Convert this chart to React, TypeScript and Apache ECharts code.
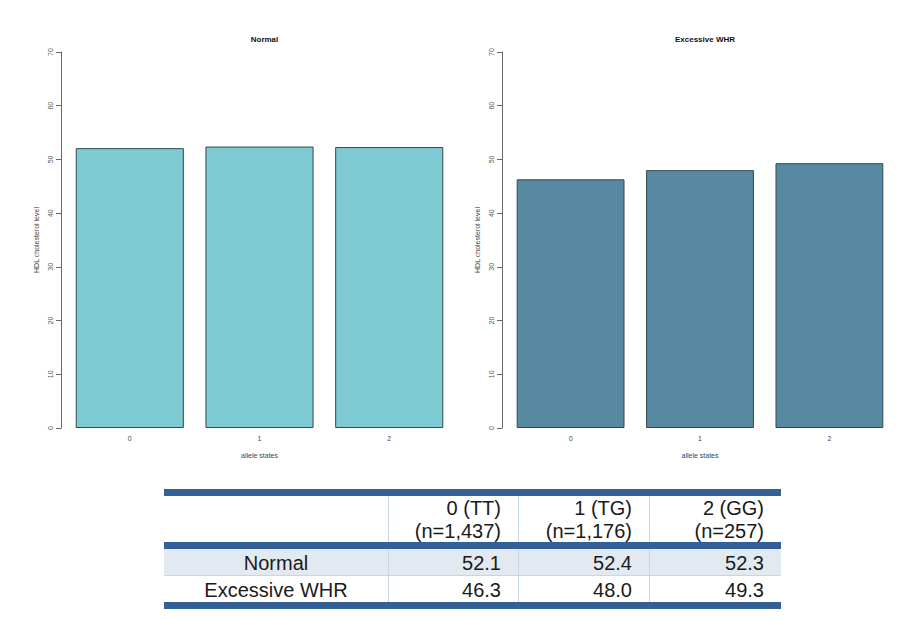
import React, { useEffect, useRef } from "react";
import * as echarts from "echarts";

// ---- data ----
const categories = ["0", "1", "2"];
const normalValues = [52.1, 52.4, 52.3];
const excessiveValues = [46.3, 48.0, 49.3];
const panelTitles = ["Normal", "Excessive WHR"];
const groupNames = ["Normal", "Excessive WHR"];
const genotypeLabels = ["0 (TT)", "1 (TG)", "2 (GG)"];
const sampleSizes = ["(n=1,437)", "(n=1,176)", "(n=257)"];
const yMax = 70;
const yInterval = 10;
const xAxisName = "allele states";
const yAxisName = "HDL cholesterol level";

// R barplot layout (width 1, space 0.2)
const barPos = (i: number) => 0.2 + i * 1.2 + 0.5;
const xMin = 0.2 - 0.04 * 3.4;
const xMax = 3.6 + 0.04 * 3.4;

const W = 914;
const H = 619;
const panels = [
  { left: 61, right: 458, fill: "#7ECAD3", values: normalValues },
  { left: 502, right: 898, fill: "#578AA0", values: excessiveValues },
];
const plotTop = 52;
const plotBottom = 428;

export default function App() {
  const ref = useRef<HTMLDivElement>(null);
  useEffect(() => {
    if (!ref.current) return;
    const chart = echarts.init(ref.current, null, { renderer: "svg" });

    const grids = panels.map((p) => ({
      left: p.left,
      width: p.right - p.left,
      top: plotTop,
      height: plotBottom - plotTop,
      containLabel: false,
    }));

    const xAxes = panels.map((p, gi) => ({
      type: "value",
      gridIndex: gi,
      min: xMin,
      max: xMax,
      axisLine: { show: false },
      axisTick: { show: false },
      splitLine: { show: false },
      axisLabel: {
        customValues: categories.map((_, i) => barPos(i)),
        formatter: (v: number) => {
          const idx = categories.findIndex((_, i) => Math.abs(barPos(i) - v) < 1e-6);
          return idx >= 0 ? categories[idx] : "";
        },
        fontSize: 7,
        color: "#444",
        margin: 7,
        fontFamily: "Liberation Sans",
      },
      name: xAxisName,
      nameLocation: "middle",
      nameGap: 24,
      nameTextStyle: { fontSize: 7, color: "#444", fontFamily: "Liberation Sans" },
    }));

    const yAxes = panels.map((p, gi) => ({
      type: "value",
      gridIndex: gi,
      min: 0,
      max: yMax,
      interval: yInterval,
      axisLine: { show: true, lineStyle: { color: "#666", width: 1 } },
      axisTick: { show: true, length: 5, lineStyle: { color: "#666" } },
      splitLine: { show: false },
      axisLabel: {
        rotate: 90,
        fontSize: 7,
        color: "#555",
        margin: 7,
        fontFamily: "Liberation Sans",
      },
      name: yAxisName,
      nameLocation: "middle",
      nameGap: 21,
      nameTextStyle: { fontSize: 7, color: "#444", fontFamily: "Liberation Sans" },
    }));

    const series = panels.map((p, gi) => ({
      type: "bar",
      xAxisIndex: gi,
      yAxisIndex: gi,
      barWidth: (p.right - p.left) / (xMax - xMin),
      data: categories.map((_, i) => [barPos(i), p.values[i]]),
      itemStyle: { color: p.fill, borderColor: "#34474d", borderWidth: 1 },
      silent: true,
    }));

    const titles = panels.map((p, gi) => ({
      text: panelTitles[gi],
      left: (p.left + p.right) / 2,
      top: 30,
      textAlign: "center",
      textStyle: { fontSize: 8, fontWeight: "bold", color: "#111", fontFamily: "Liberation Sans" },
    }));

    // ---- table ----
    const colX = [164, 388, 518, 649, 781];
    const thick = "#336096";
    const thin = "#C8D5E8";
    const rowBg = "#E3E9F1";
    const font = '20px "Liberation Sans"';
    const textColor = "#1a1a1a";
    const tTop = 489;
    const barH = 7;
    const headerTop = tTop + barH; // 496
    const headerBottom = 542;
    const row1Top = headerBottom + barH; // 549
    const row1Bottom = 575;
    const row2Bottom = 602;
    const tableW = colX[4] - colX[0];
    const pad = 17;
    const txt = (text: string, x: number, y: number, align: string) => ({
      type: "text",
      silent: true,
      style: {
        text,
        x,
        y,
        font,
        fill: textColor,
        align,
        textAlign: align,
        verticalAlign: "middle",
        textVerticalAlign: "middle",
      },
    });
    const graphics: any[] = [];
    graphics.push({ type: "rect", silent: true, shape: { x: colX[0], y: row1Top, width: tableW, height: row1Bottom - row1Top }, style: { fill: rowBg } });
    graphics.push({ type: "line", silent: true, shape: { x1: colX[0], y1: row1Bottom + 0.5, x2: colX[4], y2: row1Bottom + 0.5 }, style: { stroke: thin, lineWidth: 1 } });
    for (let c = 1; c <= 3; c++) {
      graphics.push({ type: "line", silent: true, shape: { x1: colX[c] + 0.5, y1: headerTop, x2: colX[c] + 0.5, y2: row2Bottom }, style: { stroke: thin, lineWidth: 1 } });
    }
    [tTop, headerBottom, row2Bottom].forEach((y) =>
      graphics.push({ type: "rect", silent: true, shape: { x: colX[0], y, width: tableW, height: barH }, style: { fill: thick } })
    );
    genotypeLabels.forEach((g, i) => {
      graphics.push(txt(g, colX[i + 2] - pad, 508, "right"));
      graphics.push(txt(sampleSizes[i], colX[i + 2] - pad, 531, "right"));
    });
    const rows = [normalValues, excessiveValues];
    const rowCenters = [(row1Top + row1Bottom) / 2 + 1, (row1Bottom + row2Bottom) / 2 + 1];
    rows.forEach((vals, r) => {
      graphics.push(txt(groupNames[r], (colX[0] + colX[1]) / 2, rowCenters[r], "center"));
      vals.forEach((v, i) => graphics.push(txt(v.toFixed(1), colX[i + 2] - pad, rowCenters[r], "right")));
    });

    chart.setOption({
      animation: false,
      backgroundColor: "#ffffff",
      title: titles,
      grid: grids,
      xAxis: xAxes,
      yAxis: yAxes,
      series,
      graphic: { elements: graphics },
    } as any);
    return () => chart.dispose();
  }, []);
  return (
    <div
      ref={ref}
      style={{ position: "fixed", left: 0, top: 0, width: W, height: H, background: "#fff" }}
    />
  );
}
